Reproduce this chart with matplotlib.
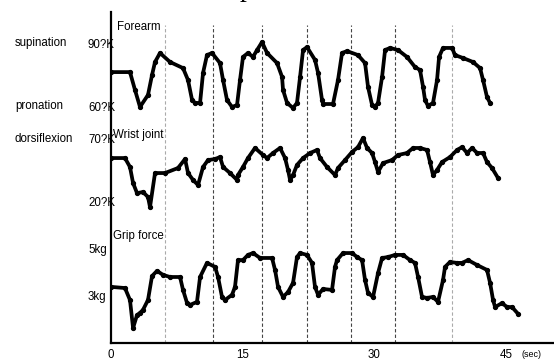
import numpy as np
import matplotlib
matplotlib.use("Agg")
import matplotlib.pyplot as plt
import matplotlib.transforms as mtrans

plt.rcParams['font.family'] = ['Liberation Sans', 'DejaVu Sans']

# Forearm rotation (deg)
forearm_t = [0, 2.16, 2.73, 3.30, 4.21, 4.67, 5.01, 5.58, 6.72, 8.20, 8.77, 9.23, 9.57, 10.14,
             10.48, 10.93, 11.50, 12.41, 12.76, 13.21, 13.78, 14.35, 14.69, 15.03, 15.60, 16.17,
             16.63, 17.20, 17.77, 18.91, 19.48, 19.59, 20.05, 20.73, 21.18, 21.53, 21.87, 22.32,
             23.23, 23.58, 24.03, 24.15, 25.28, 25.85, 26.31, 26.88, 28.13, 28.93, 29.27, 29.73,
             30.07, 30.41, 30.87, 31.21, 31.78, 32.69, 33.71, 34.62, 35.19, 35.54, 35.76, 36.10,
             36.67, 37.13, 37.36, 37.81, 38.84, 39.18, 40.09, 41.23, 42.03, 42.37, 42.82, 43.17]
forearm_deg = [77.1, 77.1, 68.6, 60.5, 66.2, 75.7, 81.9, 86.2, 81.9, 79.0, 73.3, 63.8, 62.4, 62.4,
               76.7, 85.2, 86.2, 81.4, 73.3, 63.8, 60.5, 61.4, 73.3, 84.3, 86.2, 84.3,
               87.6, 91.4, 86.2, 81.4, 74.8, 68.6, 62.4, 60.0, 62.4, 74.8, 87.6, 89.0,
               82.9, 76.7, 63.8, 61.9, 61.9, 73.3, 86.2, 87.1, 85.2, 81.4, 70.0, 61.4,
               60.5, 62.4, 74.8, 87.6, 88.6, 87.6, 84.3, 79.5, 78.1, 70.0, 63.8, 61.0,
               62.4, 73.3, 84.3, 88.6, 88.6, 85.2, 83.8, 81.9, 79.0, 73.3, 65.2, 62.4]

# Wrist joint (deg)
wrist_t = [0, 1.59, 2.16, 2.51, 2.96, 3.64, 4.21, 4.44, 5.01, 6.15, 7.63, 8.43, 8.77, 9.34, 9.91,
           10.48, 11.05, 11.85, 12.41, 12.76, 13.55, 14.35, 14.46, 15.03, 15.60, 16.40, 17.31,
           17.77, 18.45, 19.25, 19.82, 20.16, 20.39, 20.73, 21.18, 21.87, 22.67, 23.46, 23.80,
           24.60, 25.51, 25.85, 26.65, 27.45, 28.13, 28.70, 29.16, 29.73, 30.07, 30.41, 30.98,
           32.00, 32.69, 33.71, 34.40, 35.19, 35.99, 36.33, 36.67, 37.13, 37.70, 38.61, 39.41,
           39.98, 40.55, 41.12, 41.69, 42.37, 42.82, 43.39, 44.08]
wrist_deg = [55.7, 55.7, 48.6, 35.9, 27.9, 28.7, 24.8, 16.8, 43.8, 43.8, 47.8, 54.9, 43.8, 38.3, 34.3,
             48.6, 54.1, 54.9, 56.5, 48.6, 43.8, 38.3, 42.2, 48.6, 55.7, 63.7, 58.1,
             55.7, 59.7, 63.7, 55.7, 46.2, 38.3, 42.2, 50.2, 55.7, 59.7, 62.1, 55.7,
             48.6, 42.2, 47.8, 54.1, 60.5, 64.4, 71.6, 63.7, 59.7, 52.5, 44.6, 51.7,
             54.1, 58.1, 59.7, 63.7, 63.7, 62.1, 52.5, 42.2, 46.2, 52.5, 56.5, 62.1,
             64.4, 59.7, 63.7, 59.7, 59.7, 52.5, 47.8, 39.8]

# Grip force (kg)
grip_t = [0, 1.59, 2.16, 2.51, 2.96, 3.30, 3.64, 4.21, 4.67, 5.24, 5.92, 6.72, 7.86, 8.20, 8.66,
          9.00, 9.79, 10.14, 10.93, 11.85, 12.19, 12.64, 12.98, 13.78, 14.12, 14.46, 15.03, 15.60,
          16.17, 16.97, 18.34, 18.68, 19.02, 19.59, 20.16, 20.73, 21.18, 21.53, 22.32, 22.89,
          23.23, 23.58, 24.15, 25.17, 25.51, 25.74, 26.42, 27.45, 28.02, 28.59, 28.93, 29.27,
          29.84, 30.41, 30.87, 31.55, 32.35, 33.26, 34.05, 34.62, 34.97, 35.42, 35.99, 36.67,
          37.24, 37.81, 38.04, 38.61, 39.41, 39.98, 40.66, 41.69, 42.82, 43.17, 43.51, 43.74,
          44.53, 45.10, 45.67, 46.36]
grip_kg = [3.43, 3.38, 2.87, 1.68, 2.23, 2.32, 2.45, 2.87, 3.89, 4.11, 3.94, 3.85, 3.85, 3.30, 2.74,
           2.66, 2.79, 3.85, 4.45, 4.28, 3.85, 3.00, 2.87, 3.09, 3.43, 4.57, 4.57, 4.79,
           4.87, 4.66, 4.66, 4.15, 3.43, 3.00, 3.21, 3.60, 4.70, 4.87, 4.79, 4.45,
           3.43, 3.09, 3.34, 3.30, 4.28, 4.57, 4.87, 4.87, 4.70, 4.57, 3.72, 3.17,
           3.00, 4.02, 4.66, 4.70, 4.79, 4.79, 4.57, 4.45, 3.85, 3.00, 2.96, 3.00,
           2.79, 3.72, 4.28, 4.49, 4.45, 4.45, 4.57, 4.36, 4.15, 3.60, 2.87, 2.57,
           2.74, 2.57, 2.57, 2.28]

marker_t = [6.15, 11.6, 17.2, 22.3, 27.3, 32.3, 38.8]
marker_gray = [True, False, False, False, False, False, True]

xticks = [0, 15, 30, 45]

# Figure
fig = plt.figure(figsize=(5.54, 3.6), dpi=100)
rect = [0.2004, 0.0472, 0.7996, 0.9194]
ax = fig.add_axes(rect)
ax.set_xlim(0, 50.45)
ax.set_ylim(0, 1)
for s in ['top', 'right']:
	ax.spines[s].set_visible(False)
for s in ['left', 'bottom']:
	ax.spines[s].set_linewidth(1.6)
ax.set_yticks([])
ax.set_xticks(xticks)
ax.set_xticklabels([str(v) for v in xticks], fontsize=8.3)
ax.tick_params(axis='x', length=0, pad=4)

for t, g in zip(marker_t, marker_gray):
	ax.axvline(t, ymin=0, ymax=0.96, color='#aaaaaa' if g else '#444444',
			   lw=0.8, ls=(0, (3, 2)))

ax.text(0.950, -0.036, "(sec)", transform=ax.transAxes, fontsize=6.5, ha='center', va='center')
ax.text(0.014, 0.955, "Forearm", transform=ax.transAxes, fontsize=8.3, va='center')
ax.text(0.004, 0.628, "Wrist joint", transform=ax.transAxes, fontsize=8.3, va='center')
ax.text(0.004, 0.323, "Grip force", transform=ax.transAxes, fontsize=8.3, va='center')

# clipped title fragment at the very top
fig.text(0.432, 1.012, "p", family='Liberation Serif', fontsize=20, va='baseline', ha='left')

def trace_axes(lo, hi):
	a = fig.add_axes(rect, sharex=ax)
	a.set_ylim(lo, hi)
	a.axis('off')
	return a

line_kw = dict(color='black', lw=2.7, marker='o', ms=2.8, solid_joinstyle='round',
			   solid_capstyle='round')

ax1 = trace_axes(-51.9, 105.7)
ax1.plot(forearm_t, forearm_deg, **line_kw)
ax2 = trace_axes(-91.1, 171.6)
ax2.plot(wrist_t, wrist_deg, **line_kw)
ax3 = trace_axes(1.04, 15.13)
ax3.plot(grip_t, grip_kg, **line_kw)

lx = 88 / 554.0
def ylabel(a, val, txt):
	tr = mtrans.blended_transform_factory(fig.transFigure, a.transData)
	fig.text(lx, val, txt, transform=tr, fontsize=8.3, va='center', ha='left')

def sidelabel(a, val, txt):
	tr = mtrans.blended_transform_factory(fig.transFigure, a.transData)
	fig.text(0.027, val, txt, transform=tr, fontsize=8.3, va='center', ha='left')

ylabel(ax1, 90, "90?K")
ylabel(ax1, 60, "60?K")
ylabel(ax2, 70, "70?K")
ylabel(ax2, 20, "20?K")
ylabel(ax3, 5, "5kg")
ylabel(ax3, 3, "3kg")
sidelabel(ax1, 90.8, "supination")
sidelabel(ax1, 61, "pronation")
sidelabel(ax2, 70.5, "dorsiflexion")

fig.savefig("out.png", dpi=100)
